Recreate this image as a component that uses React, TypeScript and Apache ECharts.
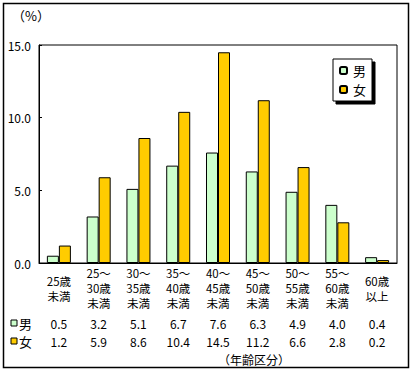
import React, { useEffect, useRef } from "react";
import * as echarts from "echarts";

const categories = [
  "25歳\n未満",
  "25～\n30歳\n未満",
  "30～\n35歳\n未満",
  "35～\n40歳\n未満",
  "40～\n45歳\n未満",
  "45～\n50歳\n未満",
  "50～\n55歳\n未満",
  "55～\n60歳\n未満",
  "60歳\n以上",
];
const male = [0.5, 3.2, 5.1, 6.7, 7.6, 6.3, 4.9, 4.0, 0.4];
const female = [1.2, 5.9, 8.6, 10.4, 14.5, 11.2, 6.6, 2.8, 0.2];
const seriesNames = ["男", "女"];
const maleColor = "#CCFFCC";
const femaleColor = "#FFCC00";
const FONT = "'Noto Sans CJK JP', sans-serif";

export default function App() {
  const ref = useRef<HTMLDivElement>(null);
  useEffect(() => {
    if (!ref.current) return;
    const chart = echarts.init(ref.current, null, { renderer: "svg" });
    const baseLabel = { color: "#000", fontFamily: FONT, fontSize: 12 };
    chart.setOption({
      animation: false,
      backgroundColor: "#ffffff",
      textStyle: { fontFamily: FONT, color: "#000" },
      grid: {
        left: 39,
        right: 17,
        top: 45,
        bottom: 112,
        show: true,
        borderColor: "#000",
        borderWidth: 1,
        containLabel: false,
      },
      legend: {
        orient: "vertical",
        left: 333,
        top: 59,
        data: seriesNames,
        padding: [5, 6, 5, 6],
        itemWidth: 7,
        itemHeight: 7,
        itemGap: 6,
        backgroundColor: "#fff",
        borderColor: "#000",
        borderWidth: 1,
        shadowColor: "#000",
        shadowBlur: 0,
        shadowOffsetX: 3,
        shadowOffsetY: 3,
        textStyle: { ...baseLabel, fontSize: 13, padding: [0, 0, 0, 1] },
      },
      xAxis: [
        {
          type: "category",
          data: categories,
          axisLine: { show: true, lineStyle: { color: "#000", width: 1 } },
          axisTick: { show: false },
          axisLabel: {
            ...baseLabel,
            fontSize: 11.5,
            interval: 0,
            lineHeight: 15,
            verticalAlign: "middle",
            margin: 25,
          },
        },
        {
          type: "category",
          position: "bottom",
          offset: 60,
          data: male.map((v) => v.toFixed(1)),
          axisLine: { show: false },
          axisTick: { show: false },
          axisLabel: { ...baseLabel, interval: 0, verticalAlign: "middle", margin: 0 },
        },
        {
          type: "category",
          position: "bottom",
          offset: 78,
          data: female.map((v) => v.toFixed(1)),
          axisLine: { show: false },
          axisTick: { show: false },
          axisLabel: { ...baseLabel, interval: 0, verticalAlign: "middle", margin: 0 },
        },
      ],
      yAxis: {
        type: "value",
        min: 0,
        max: 15,
        interval: 5,
        axisLine: { show: true, lineStyle: { color: "#000", width: 1 } },
        axisTick: { show: true, inside: true, length: 3, lineStyle: { color: "#000" } },
        splitLine: { show: false },
        axisLabel: {
          ...baseLabel,
          fontSize: 12,
          margin: 8,
          formatter: (v: number) => v.toFixed(1),
        },
      },
      series: [
        {
          name: seriesNames[0],
          type: "bar",
          data: male,
          barWidth: 12,
          barGap: "0%",
          itemStyle: { color: maleColor, borderColor: "#000", borderWidth: 1 },
        },
        {
          name: seriesNames[1],
          type: "bar",
          data: female,
          barWidth: 12,
          barGap: "0%",
          itemStyle: { color: femaleColor, borderColor: "#000", borderWidth: 1 },
        },
      ],
      graphic: [
        {
          type: "rect",
          shape: { x: 3.5, y: 3.5, width: 405, height: 364 },
          style: { fill: "none", stroke: "#000", lineWidth: 1.5 },
          silent: true,
        },
        {
          type: "text",
          x: 12,
          y: 9,
          style: { text: "（%）", fontSize: 13, fontFamily: FONT, fill: "#000" },
        },
        {
          type: "rect",
          shape: { x: 11, y: 320, width: 6, height: 6 },
          style: { fill: maleColor, stroke: "#000", lineWidth: 1 },
        },
        {
          type: "text",
          x: 19,
          y: 323,
          style: { text: seriesNames[0], fontSize: 13, fontFamily: FONT, fill: "#000", verticalAlign: "middle" },
        },
        {
          type: "rect",
          shape: { x: 11, y: 338, width: 6, height: 6 },
          style: { fill: femaleColor, stroke: "#000", lineWidth: 1 },
        },
        {
          type: "text",
          x: 19,
          y: 341,
          style: { text: seriesNames[1], fontSize: 13, fontFamily: FONT, fill: "#000", verticalAlign: "middle" },
        },
        {
          type: "text",
          x: 290,
          y: 359,
          style: {
            text: "（年齢区分）",
            fontSize: 12,
            fontFamily: FONT,
            fill: "#000",
            align: "right",
            verticalAlign: "middle",
          },
        },
      ],
    });
    return () => chart.dispose();
  }, []);
  return (
    <div
      ref={ref}
      style={{ position: "fixed", left: 0, top: 0, width: 414, height: 375 }}
    />
  );
}
